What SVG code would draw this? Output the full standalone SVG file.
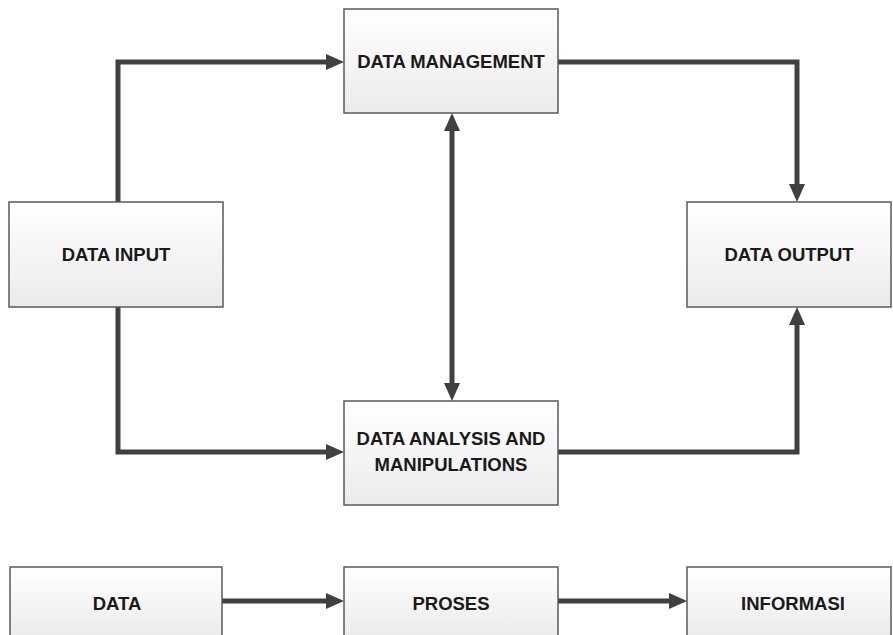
<svg xmlns="http://www.w3.org/2000/svg" width="893" height="635" viewBox="0 0 893 635">
<defs>
<linearGradient id="g" x1="0" y1="0" x2="0" y2="1">
<stop offset="0" stop-color="#ffffff"/>
<stop offset="1" stop-color="#ebebeb"/>
</linearGradient>
<marker id="ah" markerUnits="userSpaceOnUse" markerWidth="18" markerHeight="16" viewBox="0 0 18 16" refX="8" refY="8" orient="auto-start-reverse">
<path d="M0,0 L18,8 L0,16 Z" fill="#404040"/>
</marker>
<style>
.box{fill:url(#g);stroke:#5a5a5a;stroke-width:1.5}
.lbl{font-family:"Liberation Sans",Arial,sans-serif;font-weight:bold;font-size:18.5px;fill:#1a1a1a;text-anchor:middle}
.c{fill:none;stroke:#404040;stroke-width:5;stroke-linejoin:miter}
</style>
</defs>
<rect width="893" height="635" fill="#ffffff"/>
<g id="connectors">
<path class="c" d="M118,202 V62 H334" marker-end="url(#ah)"/>
<path class="c" d="M558,62 H797 V192" marker-end="url(#ah)"/>
<path class="c" d="M452,123 V391" marker-start="url(#ah)" marker-end="url(#ah)"/>
<path class="c" d="M118,307 V452 H334" marker-end="url(#ah)"/>
<path class="c" d="M558,452 H797 V317" marker-end="url(#ah)"/>
<path class="c" d="M221,601 H334" marker-end="url(#ah)"/>
<path class="c" d="M557,601 H677" marker-end="url(#ah)"/>
</g>
<g id="data-management">
<rect class="box" x="344" y="9" width="214" height="104"/>
<text class="lbl" x="451" y="68">DATA MANAGEMENT</text>
</g>
<g id="data-input">
<rect class="box" x="9" y="202" width="214" height="105"/>
<text class="lbl" x="116" y="261">DATA INPUT</text>
</g>
<g id="data-output">
<rect class="box" x="687" y="202" width="204" height="105"/>
<text class="lbl" x="789" y="261">DATA OUTPUT</text>
</g>
<g id="data-analysis">
<rect class="box" x="344" y="401" width="214" height="104"/>
<text class="lbl" x="451" y="445">DATA ANALYSIS AND</text>
<text class="lbl" x="451" y="471">MANIPULATIONS</text>
</g>
<g id="data">
<rect class="box" x="10" y="567" width="212" height="70"/>
<text class="lbl" x="117" y="610">DATA</text>
</g>
<g id="proses">
<rect class="box" x="344" y="567" width="214" height="70"/>
<text class="lbl" x="451" y="610">PROSES</text>
</g>
<g id="informasi">
<rect class="box" x="687" y="567" width="204" height="70"/>
<text class="lbl" x="793" y="610">INFORMASI</text>
</g>
</svg>
